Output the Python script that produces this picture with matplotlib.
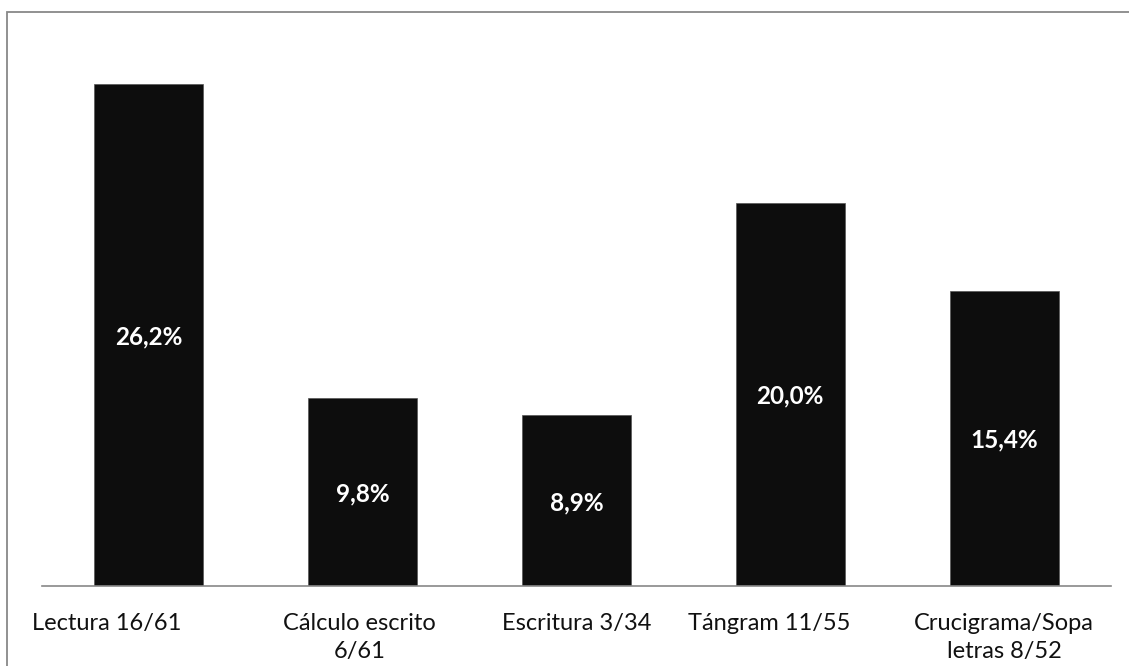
import matplotlib
matplotlib.use("Agg")
import matplotlib.pyplot as plt
from matplotlib.patches import Rectangle
from matplotlib.transforms import ScaledTranslation

categories = ["Lectura 16/61", "Cálculo escrito\n6/61", "Escritura 3/34",
              "Tángram 11/55", "Crucigrama/Sopa\nletras 8/52"]
values = [26.2, 9.8, 8.9, 20.0, 15.4]
value_labels = ["26,2%", "9,8%", "8,9%", "20,0%", "15,4%"]

plt.rcParams['font.family'] = ['Lato', 'DejaVu Sans']

W, H = 1129, 666
fig = plt.figure(figsize=(W / 100, H / 100), dpi=100)

# outer chart frame (right and bottom edges fall outside the canvas)
fig.add_artist(Rectangle((6.5 / W, -0.05), 1.2, 1 - 11.5 / H + 0.05,
                         transform=fig.transFigure, fill=False,
                         edgecolor="#888888", linewidth=1.3))

px_per_unit = 502 / 26.2
ymax = 28
left, right, base = 42, 1111, 586
top = base - ymax * px_per_unit
ax = fig.add_axes([left / W, 1 - base / H, (right - left) / W, (base - top) / H])

x = range(len(categories))
bars = ax.bar(x, values, width=0.51, color="#0d0d0d", edgecolor="#555555", linewidth=0.5)
for b, v, lab in zip(bars, values, value_labels):
    ax.text(b.get_x() + b.get_width() / 2, v / 2 - 0.1, lab, ha="center", va="center",
            color="white", fontsize=17.5, fontweight="bold")

ax.set_xlim(-0.5, len(categories) - 0.5)
ax.set_ylim(0, ymax)
ax.set_xticks(list(x))
ax.set_xticklabels(categories, fontsize=17, color="#111111", linespacing=1.4)
ax.tick_params(axis="x", length=0, pad=19.5)

# horizontal nudges (in pixels) for the category labels
label_shift_px = [-42, -3, 0, -21, 0]
for lbl, dx in zip(ax.get_xticklabels(), label_shift_px):
    lbl.set_transform(lbl.get_transform() + ScaledTranslation(dx / 100, 0, fig.dpi_scale_trans))

ax.set_yticks([])
for s in ["top", "right", "left"]:
    ax.spines[s].set_visible(False)
ax.spines["bottom"].set_color("#888888")
ax.spines["bottom"].set_linewidth(1.2)

fig.savefig("out.png", dpi=100)
